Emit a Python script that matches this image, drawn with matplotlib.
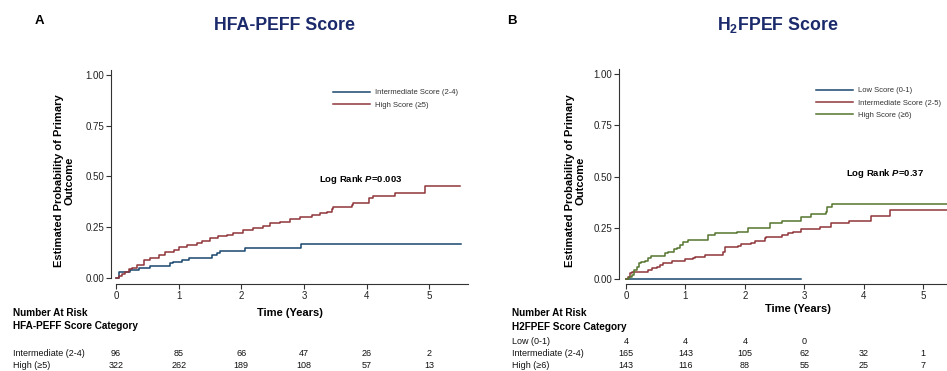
import matplotlib
matplotlib.use("Agg")
import matplotlib.pyplot as plt
import matplotlib.transforms as mtransforms

plt.rcParams["font.family"] = ["Liberation Sans", "DejaVu Sans"]
plt.rcParams["mathtext.fontset"] = "custom"
plt.rcParams["mathtext.rm"] = "Liberation Sans:bold"
plt.rcParams["mathtext.it"] = "Liberation Sans:italic:bold"

# ------------------------------------------------------------
# Data
# ------------------------------------------------------------
# Panel A: HFA-PEFF score
a_int_t = [0, 0.04, 0.23, 0.37, 0.54, 0.87, 0.91, 1.05, 1.16, 1.53, 1.62, 1.66, 2.06, 2.95, 5.51]
a_int_p = [0, 0.031, 0.039, 0.048, 0.059, 0.072, 0.080, 0.089, 0.100, 0.113, 0.122, 0.135, 0.149, 0.167, 0.167]

a_high_t = [0, 0.04, 0.09, 0.14, 0.20, 0.25, 0.33, 0.44, 0.54, 0.68, 0.78, 0.92, 1.00, 1.13,
            1.29, 1.37, 1.50, 1.63, 1.77, 1.87, 2.03, 2.19, 2.35, 2.46, 2.62, 2.78, 2.94,
            3.13, 3.26, 3.37, 3.45, 3.47, 3.77, 3.78, 4.04, 4.11, 4.46, 4.94, 5.50]
a_high_p = [0, 0.010, 0.020, 0.031, 0.043, 0.048, 0.064, 0.089, 0.097, 0.113, 0.130, 0.138,
            0.154, 0.163, 0.171, 0.184, 0.195, 0.207, 0.212, 0.223, 0.236, 0.245, 0.256,
            0.269, 0.277, 0.289, 0.302, 0.310, 0.319, 0.327, 0.338, 0.348, 0.360, 0.368,
            0.392, 0.404, 0.420, 0.453, 0.453]

# Panel B: H2FPEF score
b_low_t = [0, 2.94]
b_low_p = [0, 0]

b_int_t = [0, 0.03, 0.07, 0.10, 0.37, 0.43, 0.52, 0.57, 0.63, 0.77, 0.99, 1.13, 1.16, 1.33,
           1.64, 1.66, 1.89, 1.94, 2.11, 2.17, 2.34, 2.36, 2.62, 2.73, 2.81, 2.95, 3.26,
           3.45, 3.75, 4.12, 4.44, 5.62]
b_int_p = [0, 0.011, 0.028, 0.036, 0.044, 0.052, 0.060, 0.068, 0.076, 0.089, 0.096, 0.101,
           0.109, 0.117, 0.133, 0.155, 0.161, 0.171, 0.177, 0.187, 0.198, 0.206, 0.215,
           0.223, 0.231, 0.242, 0.255, 0.272, 0.284, 0.307, 0.337, 0.337]

b_high_t = [0, 0.05, 0.10, 0.14, 0.18, 0.22, 0.26, 0.32, 0.37, 0.42, 0.66, 0.71, 0.80, 0.85,
            0.91, 0.96, 1.05, 1.38, 1.50, 1.86, 2.06, 2.42, 2.62, 2.95, 3.12, 3.36, 3.39,
            3.47, 5.62]
b_high_p = [0, 0.008, 0.020, 0.044, 0.060, 0.076, 0.085, 0.089, 0.101, 0.114, 0.125, 0.133,
            0.145, 0.153, 0.166, 0.182, 0.190, 0.215, 0.223, 0.231, 0.247, 0.272, 0.284,
            0.301, 0.317, 0.328, 0.350, 0.366, 0.366]

# Number at risk tables
risk_times = [0, 1, 2, 3, 4, 5]
a_risk_labels = ["Intermediate (2-4)", "High (\u22655)"]
a_risk_int = ["96", "85", "66", "47", "26", "2"]
a_risk_high = ["322", "262", "189", "108", "57", "13"]

b_risk_labels = ["Low (0-1)", "Intermediate (2-4)", "High (\u22656)"]
b_risk_low = ["4", "4", "4", "0", "", ""]
b_risk_int = ["165", "143", "105", "62", "32", "1"]
b_risk_high = ["143", "116", "88", "55", "25", "7"]

a_legend = ["Intermediate Score (2-4)", "High Score (\u22655)"]
b_legend = ["Low Score (0-1)", "Intermediate Score (2-5)", "High Score (\u22656)"]

NAVY = "#1a476f"
MAROON = "#90353b"
GREEN = "#55752f"
TITLE_COL = "#1b2a6b"
AXIS_COL = "#333333"

W, H = 947, 371
fig = plt.figure(figsize=(W / 100, H / 100), dpi=100)


def fx(px):
    return px / W


def fy(px):
    return 1 - px / H


def add_axes_px(left, top, right, bottom):
    return fig.add_axes([fx(left), fy(bottom), (right - left) / W, (bottom - top) / H])


def style_axes(ax, left_off, bottom_off, ytop):
    ax.set_xlim(0, 5.62)
    ax.set_ylim(0, ytop)
    for side in ["top", "right"]:
        ax.spines[side].set_visible(False)
    ax.spines["left"].set_position(("outward", left_off * 0.72))
    ax.spines["bottom"].set_position(("outward", bottom_off * 0.72))
    for side in ["left", "bottom"]:
        ax.spines[side].set_color(AXIS_COL)
        ax.spines[side].set_linewidth(0.8)
    ax.set_xticks(risk_times)
    ax.set_yticks([0, 0.25, 0.5, 0.75, 1.0])
    ax.set_yticklabels(["0.00", "0.25", "0.50", "0.75", "1.00"])
    ax.tick_params(direction="out", length=3.5, width=0.8, color=AXIS_COL,
                   labelsize=7, pad=1.5, labelcolor="#222222")
    ax.patch.set_alpha(0)


def risk_table(ax, x_label, y_rows, labels, rows):
    trans = mtransforms.blended_transform_factory(ax.transData, fig.transFigure)
    for y, lab, vals in zip(y_rows, labels, rows):
        fig.text(fx(x_label), fy(y), lab, fontsize=6.5, va="center", ha="left", color="#111111")
        for t, v in zip(risk_times, vals):
            ax.text(t, fy(y), v, transform=trans, fontsize=6.5, ha="center", va="center",
                    color="#111111", clip_on=False)


# ------------------------------------------------------------
# Panel A
# ------------------------------------------------------------
ax_a = add_axes_px(116, 70, 468, 278)
style_axes(ax_a, 5, 6, 1.0246)
ax_a.step(a_int_t, a_int_p, where="post", color=NAVY, lw=1.1, label=a_legend[0], clip_on=False)
ax_a.step(a_high_t, a_high_p, where="post", color=MAROON, lw=1.1, label=a_legend[1], clip_on=False)
ax_a.legend(loc="upper left", bbox_to_anchor=(fx(333), fy(89)), bbox_transform=fig.transFigure,
            frameon=False, fontsize=5.5, handlelength=4.9, handletextpad=0.6,
            labelspacing=0.65, borderpad=0, borderaxespad=0, labelcolor="#333333")
fig.text(fx(361), fy(180), r"Log Rank $\mathit{P}$=0.003", fontsize=6.8, fontweight="bold",
         ha="center", va="center")
fig.text(fx(64), fy(181), "Estimated Probability of Primary\nOutcome", rotation=90,
         fontsize=8, fontweight="bold", ha="center", va="center", multialignment="center",
         linespacing=1.1)
fig.text(fx(290), fy(313), "Time (Years)", fontsize=8, fontweight="bold", ha="center", va="center")
fig.text(fx(284), fy(25), "HFA-PEFF Score", fontsize=12.8, fontweight="bold", color=TITLE_COL,
         ha="center", va="center")
fig.text(fx(35), fy(21), "A", fontsize=9.5, fontweight="heavy", ha="left", va="center")
fig.text(fx(13), fy(313), "Number At Risk", fontsize=7.2, fontweight="bold", ha="left", va="center")
fig.text(fx(13), fy(326), "HFA-PEFF Score Category", fontsize=7.2, fontweight="bold",
         ha="left", va="center")
risk_table(ax_a, 13, [353, 366], a_risk_labels, [a_risk_int, a_risk_high])

# ------------------------------------------------------------
# Panel B
# ------------------------------------------------------------
ax_b = add_axes_px(626, 69, 960, 279)
style_axes(ax_b, 7, 5, 1.0244)
ax_b.step(b_low_t, b_low_p, where="post", color=NAVY, lw=1.1, label=b_legend[0], clip_on=False)
ax_b.step(b_int_t, b_int_p, where="post", color=MAROON, lw=1.1, label=b_legend[1], clip_on=False)
ax_b.step(b_high_t, b_high_p, where="post", color=GREEN, lw=1.1, label=b_legend[2], clip_on=False)
ax_b.legend(loc="upper left", bbox_to_anchor=(fx(816), fy(87)), bbox_transform=fig.transFigure,
            frameon=False, fontsize=5.5, handlelength=4.9, handletextpad=0.6,
            labelspacing=0.65, borderpad=0, borderaxespad=0, labelcolor="#333333")
fig.text(fx(885), fy(173), r"Log Rank $\mathit{P}$=0.37", fontsize=6.8, fontweight="bold",
         ha="center", va="center")
fig.text(fx(575), fy(181), "Estimated Probability of Primary\nOutcome", rotation=90,
         fontsize=8, fontweight="bold", ha="center", va="center", multialignment="center",
         linespacing=1.1)
fig.text(fx(798), fy(309), "Time (Years)", fontsize=8, fontweight="bold", ha="center", va="center")
fig.text(fx(778), fy(25), r"H$_\mathrm{2}$FPEF Score", fontsize=12.8, fontweight="bold",
         color=TITLE_COL, ha="center", va="center")
fig.text(fx(507), fy(21), "B", fontsize=9.5, fontweight="heavy", ha="left", va="center")
fig.text(fx(512), fy(313), "Number At Risk", fontsize=7.2, fontweight="bold", ha="left", va="center")
fig.text(fx(512), fy(327), "H2FPEF Score Category", fontsize=7.2, fontweight="bold",
         ha="left", va="center")
risk_table(ax_b, 512, [341, 353, 365], b_risk_labels, [b_risk_low, b_risk_int, b_risk_high])

fig.savefig("out.png", dpi=100)
plt.close(fig)
